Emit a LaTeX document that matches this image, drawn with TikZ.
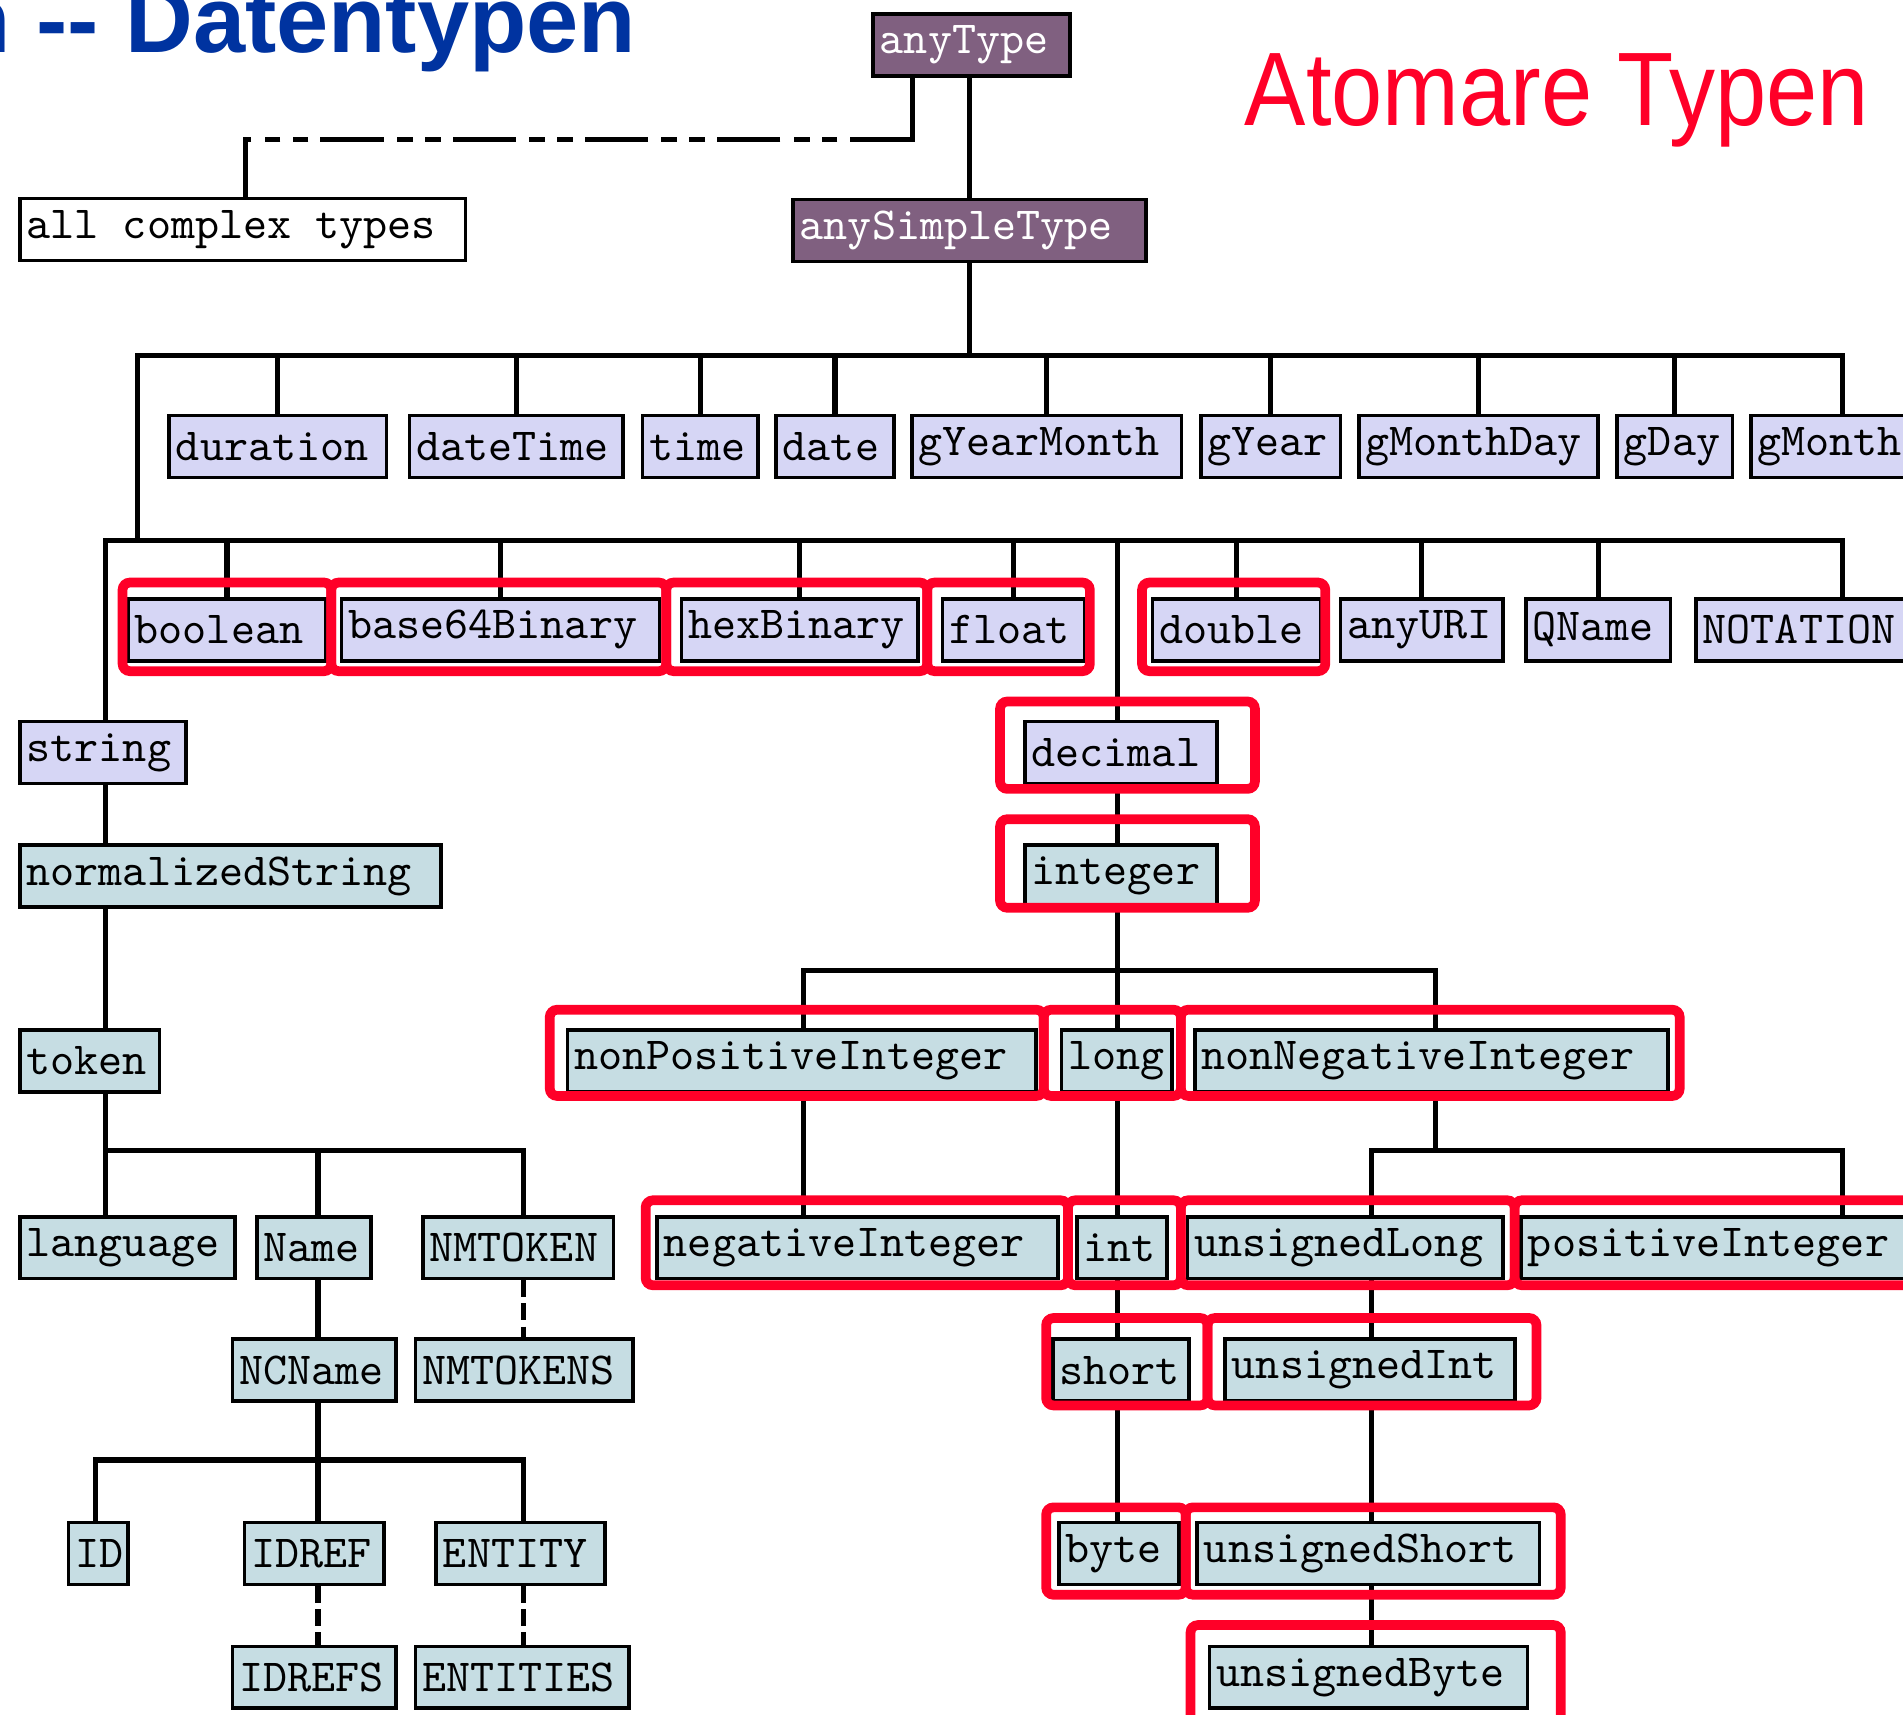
\documentclass[tikz,border=0pt]{standalone}
\usepackage{fontspec}
\setmainfont{Liberation Sans}
\newfontfamily\narrowfont[FakeStretch=0.88]{Liberation Sans}
\usetikzlibrary{positioning}

\definecolor{rootfill}{RGB}{128,96,128}
\definecolor{primfill}{RGB}{214,214,245}
\definecolor{derivfill}{RGB}{198,221,227}
\definecolor{markred}{RGB}{255,0,40}
\definecolor{titleblue}{RGB}{0,51,160}

\pgfdeclarelayer{background}
\pgfsetlayers{background,main}

\begin{document}
\begin{tikzpicture}[
  x=0.1mm, y=-0.1mm,
  tbox/.style={draw, line width=0.3mm, anchor=west, minimum height=5.1mm,
               inner xsep=0.55mm, inner ysep=0pt, align=left,
               font=\ttfamily\fontsize{10.75pt}{11pt}\selectfont},
  bw/.style={text width=#1*0.1mm-1.4mm},
  root/.style={tbox, fill=rootfill, text=white},
  prim/.style={tbox, fill=primfill},
  deriv/.style={tbox, fill=derivfill},
  tline/.style={line width=0.42mm, line cap=rect},
  dotdash/.style={line cap=butt, dash pattern=on 5.2mm off 1mm on 1.3mm off 1mm on 1.3mm off 1.1mm},
  listdash/.style={line cap=butt, dash pattern=on 1.4mm off 0.5mm},
  hilite/.style={draw=markred, line width=0.8mm, rounded corners=0.6mm}
]
  \useasboundingbox (0,0) rectangle (1568,1413);

  % Headings
  \node[anchor=base east, inner sep=0, text=titleblue,
        font=\bfseries\fontsize{22pt}{22pt}\selectfont] (title) at (525,43) {n -{}- Datentypen};
  \node[anchor=base west, inner sep=0, text=markred,
        font=\narrowfont\fontsize{24.5pt}{25pt}\selectfont] (atomic) at (1025,103) {Atomare Typen};

  % Roots
  \node[root, bw=165] (anyType) at (718,37) {anyType};
  \node[root, bw=294] (anySimpleType) at (652,190) {anySimpleType};
  \node[tbox, fill=white, bw=370] (complex) at (15,189) {all\hspace{1.98mm}complex\hspace{1.98mm}types};

  % Primitive types, first row
  \node[prim, bw=182] (duration) at (138,368) {duration};
  \node[prim, bw=179] (dateTime) at (336,368) {dateTime};
  \node[prim, bw=98] (time) at (528,368) {time};
  \node[prim, bw=100] (date) at (638,368) {date};
  \node[prim, bw=225] (gYearMonth) at (750,368) {gYearMonth};
  \node[prim, bw=118] (gYear) at (988,368) {gYear};
  \node[prim, bw=200] (gMonthDay) at (1118,368) {gMonthDay};
  \node[prim, bw=98] (gDay) at (1331,368) {gDay};
  \node[prim, bw=160] (gMonth) at (1441,368) {gMonth};

  % Primitive types, second row
  \node[prim, bw=166] (boolean) at (104,519) {boolean};
  \node[prim, bw=265] (base64Binary) at (280,519) {base64Binary};
  \node[prim, bw=198] (hexBinary) at (560,519) {hexBinary};
  \node[prim, bw=120] (float) at (775,519) {float};
  \node[prim, bw=142] (double) at (948,519) {double};
  \node[prim, bw=137] (anyURI) at (1103,519) {anyURI};
  \node[prim, bw=122] (QName) at (1256,519) {QName};
  \node[prim, bw=200] (NOTATION) at (1396,519) {NOTATION};

  % String branch
  \node[prim, bw=140] (string) at (15,620) {string};
  \node[deriv, bw=350] (normalizedString) at (15,722) {normalizedString};
  \node[deriv, bw=118] (token) at (15,874) {token};
  \node[deriv, bw=180] (language) at (15,1028) {language};
  \node[deriv, bw=97] (Name) at (210,1028) {Name};
  \node[deriv, bw=160] (NMTOKEN) at (347,1028) {NMTOKEN};
  \node[deriv, bw=138] (NCName) at (190,1129) {NCName};
  \node[deriv, bw=182] (NMTOKENS) at (341,1129) {NMTOKENS};
  \node[deriv, bw=52] (ID) at (55,1280) {ID};
  \node[deriv, bw=118] (IDREF) at (200,1280) {IDREF};
  \node[deriv, bw=142] (ENTITY) at (358,1280) {ENTITY};
  \node[deriv, bw=138] (IDREFS) at (190,1382) {IDREFS};
  \node[deriv, bw=179] (ENTITIES) at (341,1382) {ENTITIES};

  % Decimal branch
  \node[prim, bw=161] (decimal) at (843,620) {decimal};
  \node[deriv, bw=161] (integer) at (843,722) {integer};
  \node[deriv, bw=389] (nonPositiveInteger) at (466,874) {nonPositiveInteger};
  \node[deriv, bw=94] (long) at (873,874) {long};
  \node[deriv, bw=393] (nonNegativeInteger) at (983,874) {nonNegativeInteger};
  \node[deriv, bw=333] (negativeInteger) at (540,1028) {negativeInteger};
  \node[deriv, bw=77] (int) at (886,1028) {int};
  \node[deriv, bw=263] (unsignedLong) at (977,1028) {unsignedLong};
  \node[deriv, bw=340] (positiveInteger) at (1252,1028) {positiveInteger};
  \node[deriv, bw=115] (short) at (866,1129) {short};
  \node[deriv, bw=242] (unsignedInt) at (1008,1129) {unsignedInt};
  \node[deriv, bw=102] (byte) at (871,1280) {byte};
  \node[deriv, bw=285] (unsignedShort) at (985,1280) {unsignedShort};
  \node[deriv, bw=265] (unsignedByte) at (995,1382) {unsignedByte};

  \begin{pgfonlayer}{background}
  \fill[white] (0,0) rectangle (1568,1413);

  % anyType
  \coordinate (cxR) at (752,115);
  \coordinate (cxL) at (202,115);
  \draw[tline] (anyType.south -| cxR) -- (cxR);
  \draw[tline, dotdash] (cxR) -- (cxL);
  \draw[tline] (cxL) -- (cxL |- complex.north);
  \draw[tline] (anyType.south -| anySimpleType) -- (anySimpleType.north);

  % anySimpleType
  \coordinate (b1W) at (113,293);
  \coordinate (b1E) at (1518,293);
  \draw[tline] (anySimpleType) -- (anySimpleType |- b1W);
  \draw[tline] (b1W) -- (b1E) -- (b1E |- gMonth.north);
  \foreach \t in {duration,dateTime,time,date,gYearMonth,gYear,gMonthDay,gDay}
    \draw[tline] (b1W -| \t) -- (\t);
  \coordinate (b2W) at (87,445);
  \coordinate (b2E) at (1518,445);
  \draw[tline] (b1W) -- (b1W |- b2W);
  \draw[tline] (b2W) -- (b2E) -- (b2E |- NOTATION.north);
  \foreach \t in {boolean,base64Binary,hexBinary,float,double,anyURI,QName}
    \draw[tline] (b2W -| \t) -- (\t);

  % string
  \coordinate (b4W) at (87,948);
  \coordinate (b4E) at (431,948);
  \coordinate (nameX) at (262,948);
  \draw[tline] (b2W) -- (b2W |- string.north);
  \draw[tline] (string.south -| b2W) -- (b2W |- normalizedString.north);
  \draw[tline] (normalizedString.south -| b2W) -- (b2W |- token.north);
  \draw[tline] (token.south -| b4W) -- (b4W);
  \draw[tline] (b4W) -- (b4E);
  \draw[tline] (b4W) -- (b4W |- language.north);
  \draw[tline] (nameX) -- (nameX |- Name.north);
  \draw[tline] (b4E) -- (b4E |- NMTOKEN.north);
  \draw[tline] (Name.south -| nameX) -- (nameX |- NCName.north);
  \draw[tline, listdash] (NMTOKEN.south -| b4E) -- (b4E |- NMTOKENS.north);
  \coordinate (b5W) at (79,1203);
  \coordinate (b5E) at (431,1203);
  \draw[tline] (NCName.south -| nameX) -- (nameX |- b5W);
  \draw[tline] (b5W) -- (b5E);
  \draw[tline] (b5W) -- (b5W |- ID.north);
  \draw[tline] (nameX |- b5W) -- (nameX |- IDREF.north);
  \draw[tline] (b5E) -- (b5E |- ENTITY.north);
  \draw[tline, listdash] (IDREF.south -| nameX) -- (nameX |- IDREFS.north);
  \draw[tline, listdash] (ENTITY.south -| b5E) -- (b5E |- ENTITIES.north);

  % decimal
  \coordinate (numX) at (921,445);
  \draw[tline] (numX) -- (numX |- decimal.north);
  \draw[tline] (decimal.south -| numX) -- (numX |- integer.north);
  \coordinate (b3W) at (662,800);
  \coordinate (b3E) at (1183,800);
  \draw[tline] (integer.south -| numX) -- (numX |- b3W);
  \draw[tline] (b3W) -- (b3E);
  \draw[tline] (b3W) -- (b3W |- nonPositiveInteger.north);
  \draw[tline] (numX |- b3W) -- (numX |- long.north);
  \draw[tline] (b3E) -- (b3E |- nonNegativeInteger.north);
  \draw[tline] (nonPositiveInteger.south -| b3W) -- (b3W |- negativeInteger.north);
  \draw[tline] (long.south -| numX) -- (numX |- int.north);
  \draw[tline] (int.south -| numX) -- (numX |- short.north);
  \draw[tline] (short.south -| numX) -- (numX |- byte.north);
  \coordinate (b6W) at (1130,948);
  \coordinate (b6E) at (1518,948);
  \draw[tline] (nonNegativeInteger.south -| b3E) -- (b3E |- b6W);
  \draw[tline] (b6W) -- (b6E) -- (b6E |- positiveInteger.north);
  \draw[tline] (b6W) -- (b6W |- unsignedLong.north);
  \draw[tline] (unsignedLong.south -| b6W) -- (b6W |- unsignedInt.north);
  \draw[tline] (unsignedInt.south -| b6W) -- (b6W |- unsignedShort.north);
  \draw[tline] (unsignedShort.south -| b6W) -- (b6W |- unsignedByte.north);
  \end{pgfonlayer}

  % Atomic types marked
  \draw[hilite] (101,480) rectangle (273,553);
  \draw[hilite] (273,480) rectangle (549,553);
  \draw[hilite] (549,480) rectangle (764,553);
  \draw[hilite] (764,480) rectangle (898,553);
  \draw[hilite] (941,480) rectangle (1092,553);
  \draw[hilite] (824,578) rectangle (1034,650);
  \draw[hilite] (824,675) rectangle (1034,748);
  \draw[hilite] (453,832) rectangle (860,903);
  \draw[hilite] (860,832) rectangle (973,903);
  \draw[hilite] (973,832) rectangle (1384,903);
  \draw[hilite] (532,989) rectangle (880,1059);
  \draw[hilite] (880,989) rectangle (973,1059);
  \draw[hilite] (973,989) rectangle (1248,1059);
  \draw[hilite] (1248,989) rectangle (1620,1059);
  \draw[hilite] (862,1086) rectangle (995,1158);
  \draw[hilite] (995,1086) rectangle (1266,1158);
  \draw[hilite] (862,1242) rectangle (977,1314);
  \draw[hilite] (977,1242) rectangle (1286,1314);
  \draw[hilite] (981,1339) rectangle (1286,1440);
\end{tikzpicture}
\end{document}
